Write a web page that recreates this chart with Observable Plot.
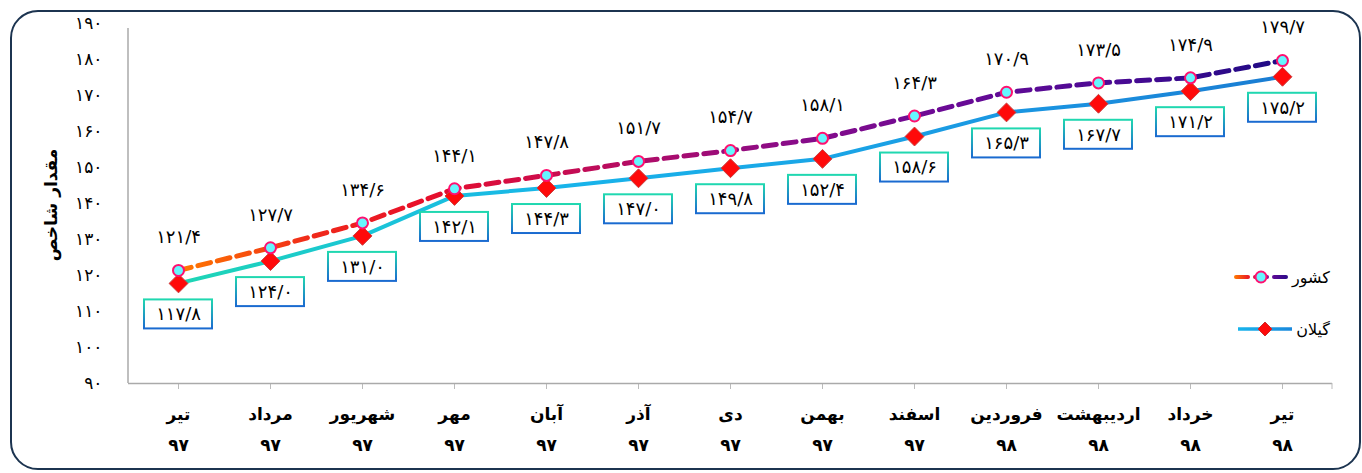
<!DOCTYPE html>
<html><head><meta charset="utf-8">
<script src="https://cdn.jsdelivr.net/npm/d3@7"></script>
<script src="https://cdn.jsdelivr.net/npm/@observablehq/plot@0.6"></script>
<style>
body{margin:0;background:#fff;font-family:"DejaVu Sans",sans-serif;}
#wrap{position:relative;width:1362px;height:473px;overflow:hidden;}
#frame{position:absolute;left:10px;top:10px;width:1351px;height:460px;border:2px solid #1c3450;border-radius:28px;box-sizing:border-box;pointer-events:none;}
#legend{position:absolute;left:1232px;top:264px;font-size:16px;color:#000;direction:rtl;}
#legend .it{display:flex;align-items:center;height:26px;margin-bottom:26px;gap:2px;}
</style></head>
<body><div id="wrap"><div id="chart"></div><div id="frame"></div>
<div id="legend">
 <div class="it"><span>کشور</span><svg width="58" height="20"><defs><linearGradient id="lgC" gradientUnits="userSpaceOnUse" x1="2" x2="56" y1="0" y2="0"><stop offset="0" stop-color="#ff7a00"/><stop offset="0.3" stop-color="#e8102a"/><stop offset="0.65" stop-color="#6a0a98"/><stop offset="1" stop-color="#2a0a88"/></linearGradient></defs><line x1="4" x2="56" y1="10" y2="10" stroke="url(#lgC)" stroke-width="4" stroke-dasharray="12 7" stroke-linecap="round"/><circle cx="29" cy="10" r="5.5" fill="#66f6ff" stroke="#ff1070" stroke-width="2"/></svg></div>
 <div class="it"><span>گیلان</span><svg width="58" height="20"><defs><linearGradient id="lgG" gradientUnits="userSpaceOnUse" x1="2" x2="56" y1="0" y2="0"><stop offset="0" stop-color="#18b4ec"/><stop offset="1" stop-color="#1a88dc"/></linearGradient></defs><line x1="2" x2="56" y1="10" y2="10" stroke="url(#lgG)" stroke-width="3.5"/><path d="M29 3 L36 10 L29 17 L22 10 Z" fill="#ff0a0a" stroke="#c83030" stroke-width="1"/></svg></div>
</div></div>
<script>
const months = ["تیر","مرداد","شهریور","مهر","آبان","آذر","دی","بهمن","اسفند","فروردین","اردیبهشت","خرداد","تیر"];
const years = ["۹۷","۹۷","۹۷","۹۷","۹۷","۹۷","۹۷","۹۷","۹۷","۹۸","۹۸","۹۸","۹۸"];
const countryValues = [121.4,127.7,134.6,144.1,147.8,151.7,154.7,158.1,164.3,170.9,173.5,174.9,179.7];
const gilanValues = [117.8,124.0,131.0,142.1,144.3,147.0,149.8,152.4,158.6,165.3,167.7,171.2,175.2];
const yTicks = [90,100,110,120,130,140,150,160,170,180,190];
const yLabel = "مقدار شاخص";

const faDigits = "۰۱۲۳۴۵۶۷۸۹";
const fa = (s) => String(s).replace(/[0-9]/g, d => faDigits[d]).replace(".", "/");
const cats = months.map((m, i) => m + "\n" + years[i]);
const country = cats.map((c, i) => ({cat: c, v: countryValues[i], label: fa(countryValues[i].toFixed(1))}));
const gilan = cats.map((c, i) => ({cat: c, v: gilanValues[i], label: fa(gilanValues[i].toFixed(1))}));

const labelOffset = 31;
const chart = Plot.plot({
  width: 1362, height: 473,
  marginLeft: 128, marginRight: 30, marginTop: 23, marginBottom: 90,
  style: {fontFamily: "DejaVu Sans, sans-serif", background: "transparent", overflow: "visible"},
  x: {type: "point", domain: cats, padding: 0.5, label: null},
  y: {domain: [90, 190], label: null},
  marks: [
    Plot.axisY({ticks: yTicks, tickSize: 0, tickPadding: 26, tickFormat: d => fa(d), fontSize: 17, label: null}),
    Plot.axisX({tickSize: 6, tickPadding: 8, fontSize: 17, fontWeight: "bold", lineHeight: 1.85, stroke: "#bbb", label: null}),
    Plot.ruleY([90], {stroke: "#aaa", strokeWidth: 1.5}),
    Plot.line(gilan, {x: "cat", y: "v", stroke: "url(#gradG)", strokeWidth: 4}),
    Plot.line(country, {x: "cat", y: "v", stroke: "url(#gradC)", strokeWidth: 5, strokeDasharray: "13 7"}),
    Plot.dot(gilan, {x: "cat", y: "v", symbol: "diamond2", r: 8.5, fill: "#ff0a0a", stroke: "#c84040", strokeWidth: 1}),
    Plot.dot(country, {x: "cat", y: "v", r: 5.5, fill: "#66f6ff", stroke: "#ff1070", strokeWidth: 2}),
    Plot.text(country, {x: "cat", y: "v", text: "label", dy: -33, fontSize: 18, fill: "#000"}),
    Plot.text(gilan, {x: "cat", y: "v", text: "label", dy: labelOffset, fontSize: 18, fill: "#000", className: "glabel"})
  ]
});
document.getElementById("chart").appendChild(chart);

const svg = d3.select(chart);
const defs = svg.insert("defs", ":first-child");
const gC = defs.append("linearGradient").attr("id", "gradC");
[[0,"#ff7a00"],[0.12,"#f02a1a"],[0.22,"#e8102a"],[0.32,"#d00c48"],[0.42,"#b00c68"],[0.55,"#8a0c88"],[0.7,"#6a0a96"],[0.85,"#4a0a94"],[1,"#1e0a84"]]
  .forEach(([o,c]) => gC.append("stop").attr("offset", o).attr("stop-color", c));
const gG = defs.append("linearGradient").attr("id", "gradG");
[[0,"#1ed6b4"],[0.18,"#1ac4d8"],[0.35,"#18b4ea"],[0.6,"#1aa4e6"],[0.8,"#1a92e0"],[1,"#1a7cd2"]]
  .forEach(([o,c]) => gG.append("stop").attr("offset", o).attr("stop-color", c));
const gB = defs.append("linearGradient").attr("id", "gradB").attr("x1", 0).attr("x2", 0).attr("y1", 0).attr("y2", 1);
[[0,"#20d8b0"],[1,"#1a6ad0"]].forEach(([o,c]) => gB.append("stop").attr("offset", o).attr("stop-color", c));

// Left axis line and right-end tick, from scale ranges
const xs = chart.scale("x"), ys = chart.scale("y");
const x0 = xs.range[0], x1 = xs.range[1];
const y0 = ys.apply(90), y1 = ys.apply(190);
svg.append("line").attr("x1", x0).attr("x2", x0).attr("y1", y1 + 5).attr("y2", y0).attr("stroke", "#aaa").attr("stroke-width", 1.5);
svg.append("line").attr("x1", x1).attr("x2", x1).attr("y1", y0).attr("y2", y0 + 6).attr("stroke", "#bbb");

// Boxes behind Gilan labels (positioned through the scales)
const glabelNode = svg.select("g.glabel").node();
const boxG = d3.select(glabelNode.parentNode).insert("g", () => glabelNode);
gilan.forEach(d => {
  const cx = xs.apply(d.cat), cy = ys.apply(d.v) + labelOffset;
  const w = 68, h = 29;
  boxG.append("rect").attr("x", cx - w / 2).attr("y", cy - h / 2).attr("width", w).attr("height", h)
    .attr("fill", "#fff").attr("stroke", "url(#gradB)").attr("stroke-width", 2);
});

// Y axis title
svg.append("text").attr("transform", `translate(52,${(y0 + y1) / 2 + 2}) rotate(-90)`)
  .attr("text-anchor", "middle").attr("dominant-baseline", "middle")
  .attr("font-size", 17).attr("font-weight", "bold").text(yLabel);
</script>
</body></html>
